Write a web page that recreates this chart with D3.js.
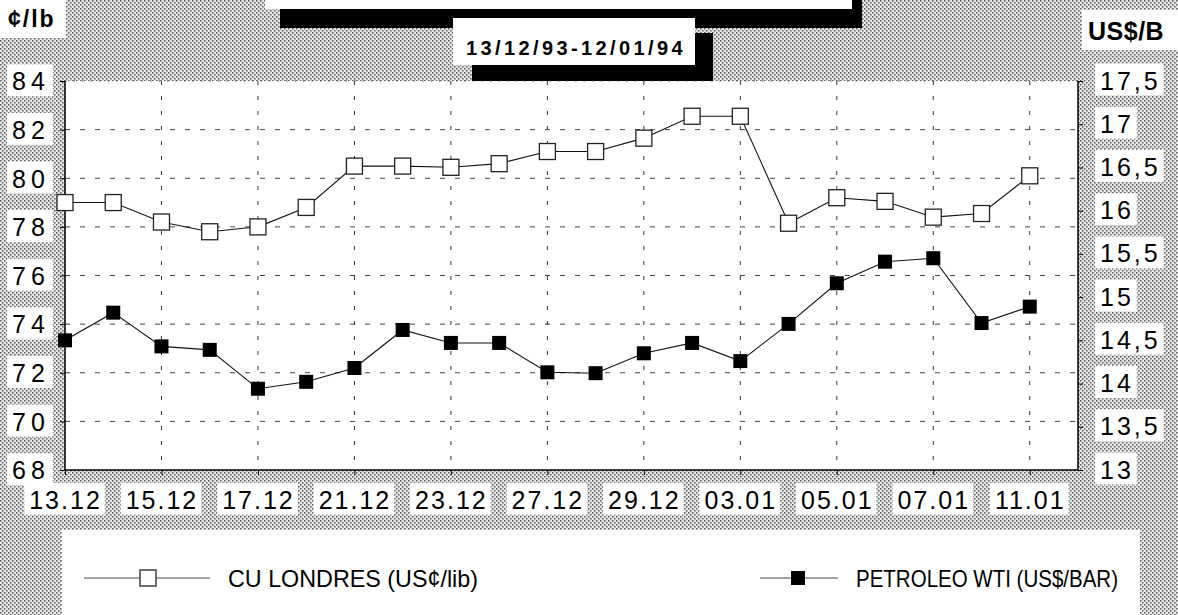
<!DOCTYPE html>
<html>
<head>
<meta charset="utf-8">
<script src="https://cdn.jsdelivr.net/npm/d3@7"></script>
<style>
body { margin: 0; background: #fff; }
svg { display: block; font-family: "Liberation Sans", Arial, sans-serif; }
</style>
</head>
<body>
<div class="chart"></div>
<script>
// data
const dates = ["13.12","14.12","15.12","16.12","17.12","20.12","21.12","22.12","23.12","24.12",
    "27.12","28.12","29.12","30.12","03.01","04.01","05.01","06.01","07.01","10.01","11.01"];
const cuLondres = [79.0, 79.0, 78.2, 77.8, 78.0, 78.8, 80.5, 80.5, 80.45, 80.6,
    81.1, 81.1, 81.65, 82.55, 82.55, 78.15, 79.2, 79.05, 78.4, 78.55, 80.1];
const petroleoWti = [14.5, 14.82, 14.43, 14.39, 13.94, 14.02, 14.18, 14.62, 14.47, 14.47,
    14.13, 14.12, 14.35, 14.47, 14.26, 14.69, 15.16, 15.41, 15.45, 14.70, 14.89];
const leftTicks = [68, 70, 72, 74, 76, 78, 80, 82, 84];
const rightTicks = [13, 13.5, 14, 14.5, 15, 15.5, 16, 16.5, 17, 17.5];
const labelIdx = [0, 2, 4, 6, 8, 10, 12, 14, 16, 18, 20];
const subtitle = "13/12/93-12/01/94";
const leftUnit = "¢/lb", rightUnit = "US$/B";
const seriesNames = ["CU LONDRES (US¢/lib)", "PETROLEO WTI (US$/BAR)"];

const W = 1178, H = 615;
const plot = {left: 65, right: 1078, top: 81, bottom: 470};

const svg = d3.select(".chart").append("svg")
    .attr("width", W)
    .attr("height", H);

// halftone background
const pat = svg.append("defs").append("pattern")
    .attr("id", "dots")
    .attr("width", 4).attr("height", 4)
    .attr("patternUnits", "userSpaceOnUse");
pat.append("rect").attr("width", 4).attr("height", 4).attr("fill", "#e6e6e6");
pat.append("rect").attr("x", 0).attr("y", 0).attr("width", 1.5).attr("height", 1.5).attr("fill", "#5a5a5a");
pat.append("rect").attr("x", 2).attr("y", 2).attr("width", 1.5).attr("height", 1.5).attr("fill", "#5a5a5a");

svg.append("rect").attr("width", W).attr("height", H).attr("fill", "url(#dots)");

const x = d3.scaleLinear()
    .domain([0, dates.length])
    .range([plot.left, plot.right]);
const yL = d3.scaleLinear()
    .domain([68, 84])
    .range([plot.bottom, plot.top]);
const yR = d3.scaleLinear()
    .domain([13, 17.5])
    .range([plot.bottom, plot.top]);

// title boxes (shadowed)
svg.append("rect").attr("x", 280).attr("y", -5).attr("width", 582).attr("height", 33).attr("fill", "#000");
svg.append("rect").attr("x", 265).attr("y", -5).attr("width", 587).attr("height", 14).attr("fill", "#fff");
svg.append("rect").attr("x", 472).attr("y", 33).attr("width", 241).attr("height", 49).attr("fill", "#000");
svg.append("rect").attr("x", 453).attr("y", 18).attr("width", 242).attr("height", 47).attr("fill", "#fff");
svg.append("text")
    .attr("x", 576).attr("y", 55)
    .attr("text-anchor", "middle")
    .attr("font-size", 20).attr("font-weight", "bold")
    .attr("letter-spacing", 3.4)
    .text(subtitle);

// unit labels
svg.append("rect").attr("x", 0).attr("y", 0).attr("width", 66).attr("height", 38).attr("fill", "#fff");
svg.append("text").attr("x", 8).attr("y", 27)
    .attr("font-size", 23).attr("font-weight", "bold").attr("letter-spacing", 2)
    .text(leftUnit);
svg.append("rect").attr("x", 1082).attr("y", 10).attr("width", 96).attr("height", 40).attr("fill", "#fff");
svg.append("text").attr("x", 1088).attr("y", 40)
    .attr("font-size", 25).attr("font-weight", "bold").attr("letter-spacing", 0.5)
    .text(rightUnit);

// plot area
svg.append("rect")
    .attr("x", plot.left).attr("y", plot.top)
    .attr("width", plot.right - plot.left).attr("height", plot.bottom - plot.top)
    .attr("fill", "#fff");

svg.append("line")
    .attr("x1", plot.left).attr("x2", plot.right)
    .attr("y1", plot.top).attr("y2", plot.top)
    .attr("stroke", "#444").attr("stroke-dasharray", "1.5,7");

// grid
svg.append("g").selectAll("line")
    .data(leftTicks.slice(1, -1))
    .join("line")
    .attr("x1", plot.left).attr("x2", plot.right)
    .attr("y1", d => yL(d)).attr("y2", d => yL(d))
    .attr("stroke", "#444").attr("stroke-dasharray", "5,10");
svg.append("g").selectAll("line")
    .data(labelIdx.slice(1))
    .join("line")
    .attr("x1", d => x(d)).attr("x2", d => x(d))
    .attr("y1", plot.top).attr("y2", plot.bottom)
    .attr("stroke", "#333").attr("stroke-dasharray", "4,11");

// axes
const leftAxis = svg.append("g")
    .attr("transform", "translate(" + plot.left + ",0)")
    .call(d3.axisLeft(yL).tickValues(leftTicks).tickSize(5).tickFormat(d => d));
const rightAxis = svg.append("g")
    .attr("transform", "translate(" + plot.right + ",0)")
    .call(d3.axisRight(yR).tickValues(rightTicks).tickSize(5).tickFormat(d => String(d).replace(".", ",")));
const bottomAxis = svg.append("g")
    .attr("transform", "translate(0," + plot.bottom + ")")
    .call(d3.axisBottom(x).tickValues(labelIdx).tickSize(5).tickFormat(i => dates[i]));

[leftAxis, rightAxis, bottomAxis].forEach(g => {
    g.select(".domain").attr("stroke", "#000").attr("stroke-width", 1.5);
    g.selectAll(".tick line").attr("stroke", "#000");
    g.selectAll(".tick text")
        .attr("font-family", "'Liberation Sans', Arial, sans-serif")
        .attr("font-size", 25)
        .attr("fill", "#000");
});
leftAxis.select(".domain").attr("d", "M0," + plot.top + "V" + plot.bottom);
rightAxis.select(".domain").attr("d", "M0," + plot.top + "V" + plot.bottom);
bottomAxis.select(".domain").attr("d", "M" + plot.left + ",0H" + plot.right);

leftAxis.selectAll(".tick text")
    .attr("text-anchor", "start").attr("x", -53).attr("dy", "0.35em")
    .attr("letter-spacing", 5);
rightAxis.selectAll(".tick text")
    .attr("x", 22).attr("dy", "0.32em")
    .attr("letter-spacing", 3);
bottomAxis.selectAll(".tick text")
    .attr("y", 21).attr("dy", "0.71em")
    .attr("letter-spacing", 2);

// white boxes behind tick labels
[leftAxis, rightAxis, bottomAxis].forEach(g => {
    g.selectAll(".tick").each(function () {
        const t = d3.select(this).select("text");
        const b = t.node().getBBox();
        d3.select(this).insert("rect", "text")
            .attr("x", b.x - 5).attr("y", b.y - 3)
            .attr("width", b.width + 8).attr("height", b.height + 4)
            .attr("fill", "#fff");
    });
});

// series
const lineL = d3.line().x((d, i) => x(i)).y(d => yL(d));
const lineR = d3.line().x((d, i) => x(i)).y(d => yR(d));

svg.append("path").datum(cuLondres)
    .attr("d", lineL).attr("fill", "none").attr("stroke", "#111").attr("stroke-width", 1.1);
svg.append("path").datum(petroleoWti)
    .attr("d", lineR).attr("fill", "none").attr("stroke", "#111").attr("stroke-width", 1.1);

svg.append("g").selectAll("rect")
    .data(cuLondres)
    .join("rect")
    .attr("x", (d, i) => x(i) - 8).attr("y", d => yL(d) - 8)
    .attr("width", 16).attr("height", 16)
    .attr("fill", "#fff").attr("stroke", "#222").attr("stroke-width", 1.3);
svg.append("g").selectAll("rect")
    .data(petroleoWti)
    .join("rect")
    .attr("x", (d, i) => x(i) - 7).attr("y", d => yR(d) - 7)
    .attr("width", 14).attr("height", 14)
    .attr("fill", "#000");

// legend
const legend = svg.append("g");
legend.append("rect")
    .attr("x", 62).attr("y", 530).attr("width", 1078).attr("height", 100)
    .attr("fill", "#fff");

const items = [
    {name: seriesNames[0], x1: 84, x2: 210, mx: 148, tx: 228, open: true},
    {name: seriesNames[1], x1: 760, x2: 838, mx: 798, tx: 856, open: false}
];
items.forEach(it => {
    legend.append("line")
        .attr("x1", it.x1).attr("x2", it.x2).attr("y1", 578).attr("y2", 578)
        .attr("stroke", "#444").attr("stroke-width", 1);
    if (it.open) {
        legend.append("rect").attr("x", it.mx - 8).attr("y", 570).attr("width", 16).attr("height", 16)
            .attr("fill", "#fff").attr("stroke", "#222").attr("stroke-width", 1.3);
    } else {
        legend.append("rect").attr("x", it.mx - 7).attr("y", 571).attr("width", 14).attr("height", 14)
            .attr("fill", "#000");
    }
    legend.append("text")
        .attr("x", it.tx).attr("y", 587)
        .attr("font-size", 24)
        .attr("textLength", it.open ? 250 : 262)
        .attr("lengthAdjust", "spacingAndGlyphs")
        .text(it.name);
});
</script>
</body>
</html>
